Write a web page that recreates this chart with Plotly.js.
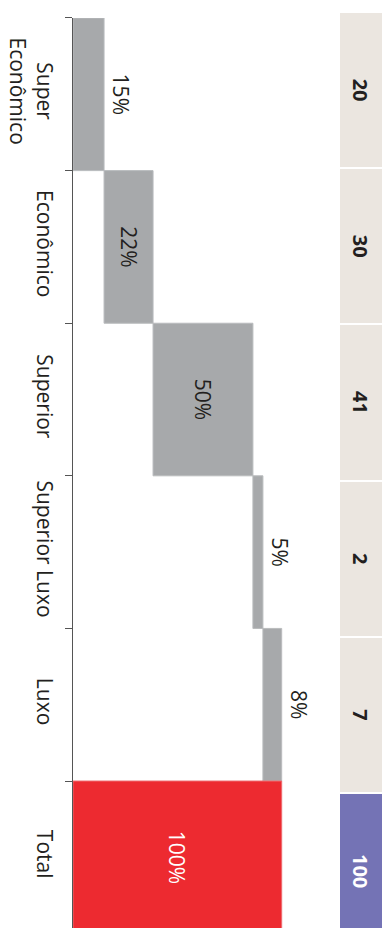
<!DOCTYPE html>
<html>
<head>
<meta charset="utf-8">
<script src="https://cdn.plot.ly/plotly-3.0.1.min.js"></script>
<style>html,body{margin:0;padding:0;background:#fff;}#chart{width:391px;height:928px;}</style>
</head>
<body>
<div id="chart"></div>
<script>
// Data
var categories = ["Super<br>Econômico", "Econômico", "Superior", "Superior Luxo", "Luxo", "Total"];
var shares = [14.9, 23.5, 47.9, 4.8, 9.0];          // drawn bar lengths (%)
var shareLabels = ["15%", "22%", "50%", "5%", "8%", "100%"];
var counts = ["20", "30", "41", "2", "7", "100"];

var FONT = "Open Sans, Noto Sans, sans-serif";
var INK = "#231f20";

var wf = {
  type: "waterfall",
  orientation: "h",
  y: categories,
  x: shares.concat([0]),
  measure: shares.map(function(){return "relative";}).concat(["total"]),
  text: shareLabels,
  textposition: ["outside", "inside", "inside", "outside", "outside", "inside"],
  textangle: 90,
  insidetextanchor: "middle",
  textfont: {family: FONT, size: 21, color: [INK, INK, INK, INK, INK, "#ffffff"]},
  increasing: {marker: {color: "#a7a9ab", line: {color: "#b9bbbd", width: 1}}},
  totals: {marker: {color: "#ed2a30", line: {color: "#ee6a6e", width: 1}}},
  connector: {visible: false},
  cliponaxis: false,
  hoverinfo: "skip",
  xaxis: "x",
  yaxis: "y"
};

var table = {
  type: "bar",
  orientation: "h",
  y: categories,
  x: counts.map(function(){return 1;}),
  width: 0.987,
  text: counts.map(function(c){return "<b>" + c + "</b>";}),
  textposition: "inside",
  insidetextanchor: "middle",
  textangle: 90,
  textfont: {family: FONT, size: 20, color: counts.map(function(c,i){return i === counts.length-1 ? "#ffffff" : INK;})},
  marker: {color: counts.map(function(c,i){return i === counts.length-1 ? "#7473b5" : "#ebe6e0";})},
  hoverinfo: "skip",
  xaxis: "x2",
  yaxis: "y2"
};

var layout = {
  width: 391,
  height: 928,
  margin: {l: 73, r: 0, t: 12, b: 0},
  paper_bgcolor: "#ffffff",
  plot_bgcolor: "rgba(0,0,0,0)",
  showlegend: false,
  waterfallgap: 0,
  bargap: 0,
  font: {family: FONT, color: INK},
  xaxis: {domain: [0, 0.75], range: [0, 114.4], visible: false, fixedrange: true},
  yaxis: {
    domain: [0, 0.99345],
    type: "category",
    range: [5.463, -0.5],
    tickson: "boundaries",
    ticks: "outside",
    ticklen: 7,
    tickcolor: "#555555",
    showline: true,
    linecolor: "#555555",
    linewidth: 1,
    showgrid: false,
    zeroline: false,
    tickangle: 90,
    ticklabelstandoff: 10,
    tickfont: {family: FONT, size: 21, color: INK},
    anchor: "x"
  },
  xaxis2: {domain: [0.8396, 0.9717], range: [0, 1], visible: false, anchor: "y2"},
  yaxis2: {domain: [0, 1], type: "category", range: [5.364, -0.5], visible: false, anchor: "x2"}
};

Plotly.newPlot("chart", [wf, table], layout, {staticPlot: true, displayModeBar: false});
</script>
</body>
</html>
